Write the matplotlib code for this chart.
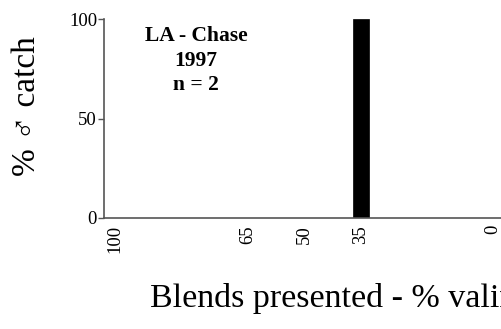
import matplotlib
matplotlib.use("Agg")
import matplotlib.pyplot as plt

# blends presented (% value) and % male catch
blends = [100, 65, 50, 35, 0]
catch = [0, 0, 0, 100, 0]
tick_labels = ["100", "65", "50", "35", "0"]

plt.rcParams['font.family'] = ['Liberation Serif', 'DejaVu Serif']

fig = plt.figure(figsize=(5.01, 3.29), dpi=100)
ax = fig.add_axes([104 / 501, 1 - 218 / 329, 1 - 104 / 501, (218 - 19) / 329])

ax.bar(blends, catch, width=4.3, color="black", edgecolor="black", linewidth=0.5)

ax.set_xlim(102.9, -2.1)
ax.set_ylim(0, 100)

ax.spines['top'].set_visible(False)
ax.spines['right'].set_visible(False)
for s in ['left', 'bottom']:
    ax.spines[s].set_color('#555555')
    ax.spines[s].set_linewidth(1.2)

ax.set_xticks(blends)
ax.set_xticklabels(tick_labels, rotation=90, fontsize=13.5)
ax.tick_params(axis='x', length=0, pad=5)
ax.set_yticks([0, 50, 100])
ax.tick_params(axis='y', length=4, width=1, color='#555555', pad=1, labelsize=13.5)

fig.text(196 / 501, 1 - 26 / 329, "LA - Chase\n1997\nn = 2", ha='center', va='top',
         fontsize=15.5, fontweight='bold', linespacing=1.3)

fig.text(27 / 501, 1 - 106 / 329, "% ♂ catch", rotation=90, ha='center', va='center', fontsize=24)
fig.text(150 / 501, 1 - 307 / 329, "Blends presented - % valine", ha='left', va='baseline', fontsize=24.5)

fig.savefig("out.png", dpi=100)
